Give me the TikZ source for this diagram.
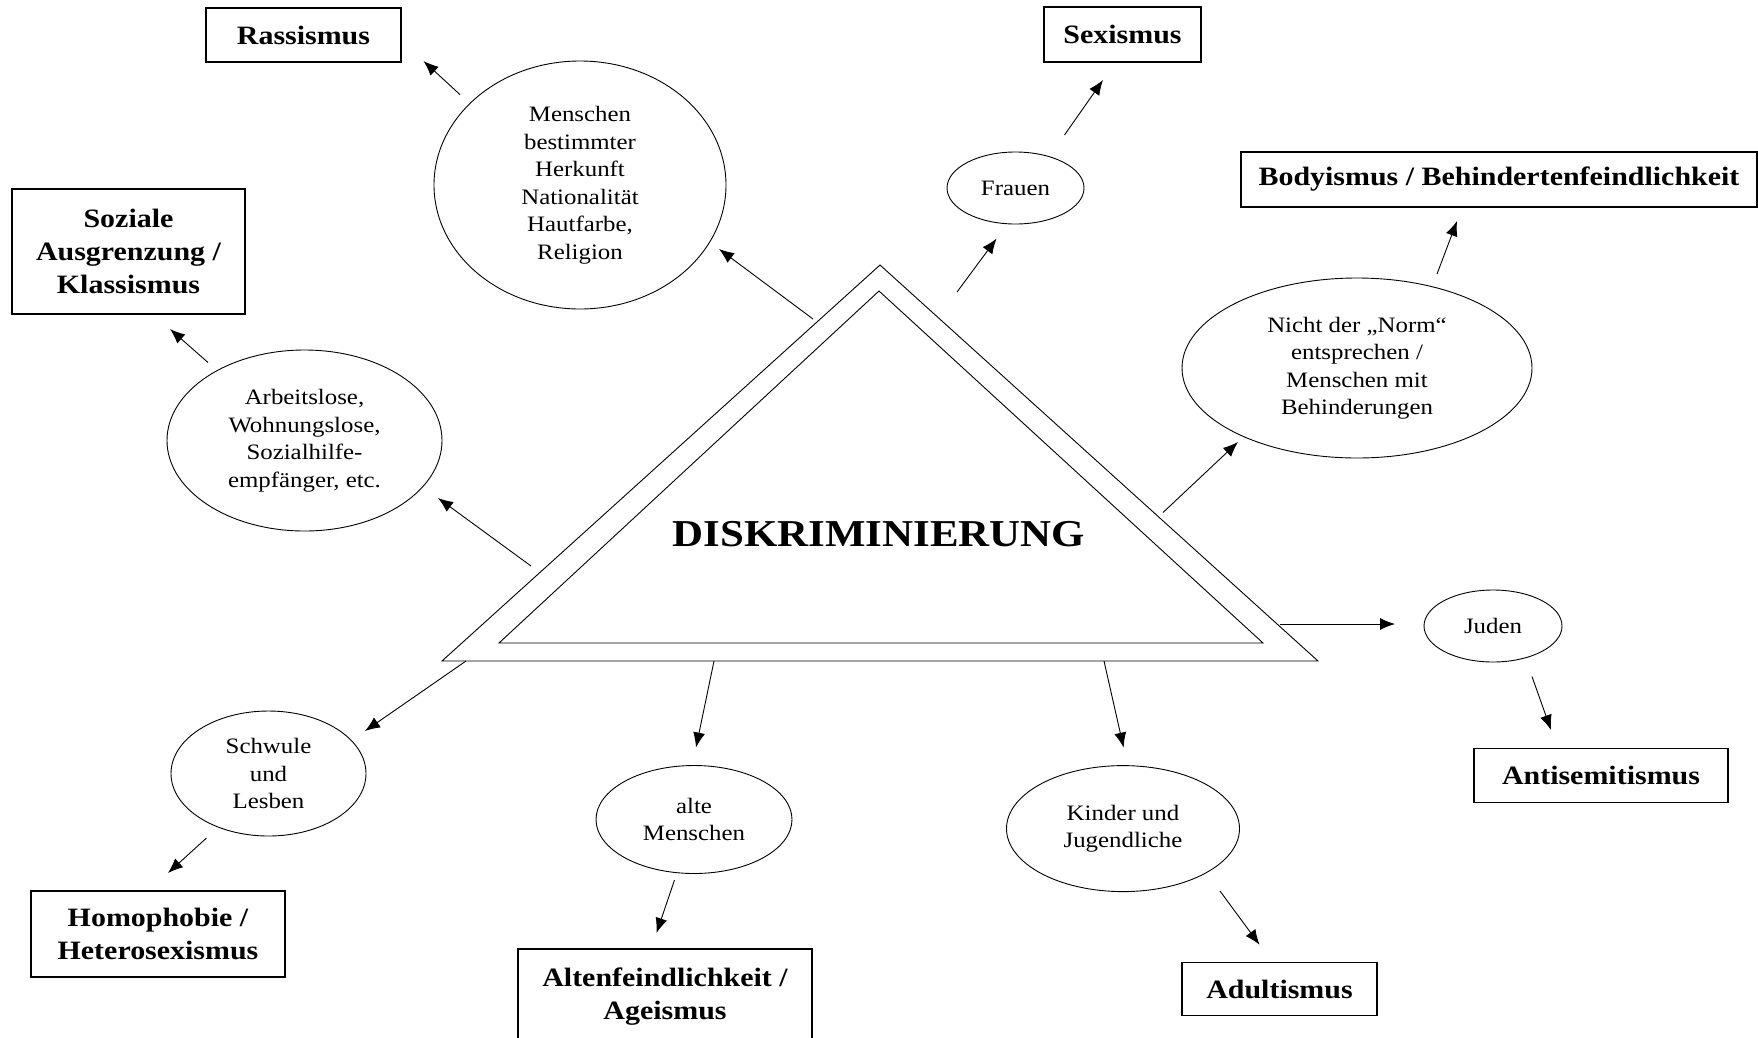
\documentclass[tikz,border=0pt]{standalone}
\usepackage{fontspec}
\setmainfont{Liberation Serif}[FakeStretch=1.13]
\usetikzlibrary{calc,shapes.geometric,arrows.meta}

\begin{document}
\begin{tikzpicture}[x=1pt,y=-1pt,
			group/.style={draw,ellipse,inner sep=0pt,align=center,line width=0.9pt,font=\fontsize{22}{27.5}\selectfont},
			ism/.style={draw,rectangle,inner sep=0pt,align=center,line width=1.2pt,font=\bfseries\fontsize{26.5}{33}\selectfont},
			arr/.style={-{Latex[length=15pt,width=12pt]},line width=0.9pt}]
			\useasboundingbox (0,0) rectangle (1758,1037);
			% double triangle
			\coordinate (apex) at (880,265);
			\coordinate (bl) at (442,661);
			\coordinate (br) at (1318,661);
			\coordinate (iapex) at (879,291);
			\coordinate (ibl) at (499,643);
			\coordinate (ibr) at (1263,643);
			\draw[line width=0.9pt] (bl) -- (apex) -- (br) -- cycle;
			\draw[line width=0.9pt] (ibl) -- (iapex) -- (ibr) -- cycle;
			\node[font=\bfseries\fontsize{38}{44}\selectfont] (title) at (879,534) {DISKRIMINIERUNG};
			% groups
			\node[group,minimum width=292pt,minimum height=248pt] (menschen) at (580,185) {Menschen\\bestimmter\\Herkunft\\Nationalität\\Hautfarbe,\\Religion};
			\node[group,minimum width=275pt,minimum height=181pt] (arbeit) at (304.5,440.5) {Arbeitslose,\\Wohnungslose,\\Sozialhilfe-\\empfänger, etc.};
			\node[group,minimum width=137pt,minimum height=72pt] (frauen) at (1015.5,188) {Frauen};
			\node[group,minimum width=350pt,minimum height=180pt] (nicht) at (1357,368) {Nicht der „Norm“\\entsprechen /\\Menschen mit\\Behinderungen};
			\node[group,minimum width=138pt,minimum height=72pt] (juden) at (1493,626) {Juden};
			\node[group,minimum width=233pt,minimum height=126pt] (kinder) at (1123,828.6) {Kinder und\\Jugendliche};
			\node[group,minimum width=196pt,minimum height=108pt] (alte) at (694,819.5) {alte\\Menschen};
			\node[group,minimum width=195pt,minimum height=125pt] (schwule) at (268.5,773.5) {Schwule\\und\\Lesben};
			% isms
			\node[ism,minimum width=195pt,minimum height=54pt] (rassismus) at (303.5,35) {Rassismus};
			\node[ism,minimum width=157pt,minimum height=55pt] (sexismus) at (1122.5,34.5) {Sexismus};
			\node[ism,minimum width=233pt,minimum height=125pt] (soziale) at (128.5,251.5) {Soziale\\Ausgrenzung /\\Klassismus};
			\node[ism,minimum width=516pt,minimum height=55pt] (body) at (1499,179.5) {Bodyismus / Behindertenfeindlichkeit};
			\node[ism,minimum width=254pt,minimum height=86pt] (homo) at (158,934) {Homophobie /\\Heterosexismus};
			\node[ism,minimum width=294pt,minimum height=96pt] (altenf) at (665,997) {Altenfeindlichkeit /\\Ageismus};
			\node[ism,minimum width=254pt,minimum height=54pt] (anti) at (1601,775.5) {Antisemitismus};
			\node[ism,minimum width=195pt,minimum height=53pt] (adult) at (1279.5,989) {Adultismus};
			% triangle to groups
			\draw[arr] ($(apex)+(-67,54)$) -- ($(menschen)+(139,64)$);
			\draw[arr] ($(bl)+(89,-95)$) -- ($(arbeit)+(133.5,57.5)$);
			\draw[arr] ($(apex)+(77,27)$) -- ($(frauen)+(-19,50.6)$);
			\draw[arr] ($(br)+(-155,-148.5)$) -- ($(nicht)+(-119,74)$);
			\draw[arr] ($(br)+(-38,-37)$) -- ($(juden)+(-98,-2)$);
			\draw[arr] ($(br)+(-214,0)$) -- ($(kinder)+(0.6,-81)$);
			\draw[arr] ($(bl)+(272,0)$) -- ($(alte)+(2,-72)$);
			\draw[arr] ($(bl)+(24,0)$) -- ($(schwule)+(96.5,-42.5)$);
			% groups to isms
			\draw[arr] ($(menschen)+(-120,-90.4)$) -- ($(rassismus)+(120,26)$);
			\draw[arr] ($(arbeit)+(-96.5,-78)$) -- ($(soziale)+(41.5,77.5)$);
			\draw[arr] ($(frauen)+(49,-53)$) -- ($(sexismus)+(-19.5,45.5)$);
			\draw[arr] ($(nicht)+(80,-94)$) -- ($(body)+(-42,41.5)$);
			\draw[arr] ($(juden)+(39,50.6)$) -- ($(anti)+(-50,-45.5)$);
			\draw[arr] ($(kinder)+(97,62.4)$) -- ($(adult)+(-20,-44.3)$);
			\draw[arr] ($(alte)+(-19.5,60.5)$) -- ($(altenf)+(-8.5,-64)$);
			\draw[arr] ($(schwule)+(-62,64.5)$) -- ($(homo)+(10,-61)$);
		\end{tikzpicture}
\end{document}
